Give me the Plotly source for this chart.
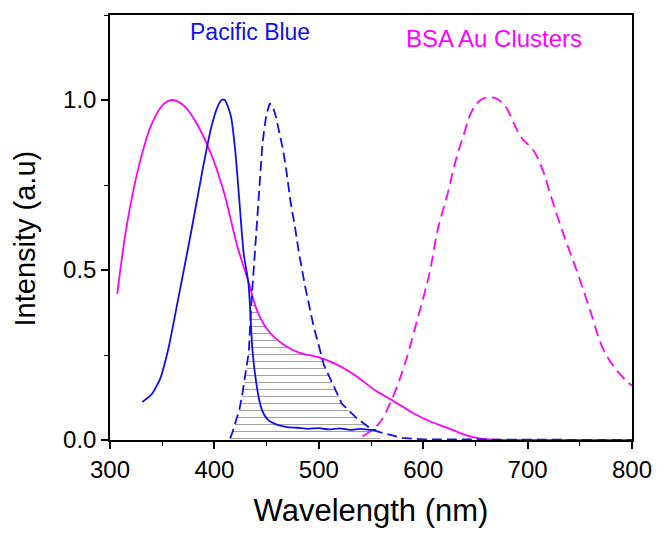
import plotly.graph_objects as go

# Pacific Blue excitation (solid blue)
pb_ex_x = [331, 340, 348, 356, 365, 377, 389, 397, 403, 407, 410, 413, 416, 420, 424, 428, 432.7, 436.5, 440,
           443, 446, 449, 453, 457, 463, 470, 480, 490, 500, 510, 520, 530, 540, 548, 555]
pb_ex_y = [0.112, 0.135, 0.18, 0.27, 0.41, 0.60, 0.80, 0.92, 0.98, 1.0, 1.0, 0.98, 0.95, 0.85, 0.70, 0.55, 0.458, 0.262, 0.17,
           0.117, 0.085, 0.068, 0.055, 0.049, 0.042, 0.038, 0.036, 0.033, 0.035, 0.031, 0.034, 0.03, 0.033, 0.03, 0.03]

# Pacific Blue emission (dashed blue)
pb_em_x = [415, 417, 420, 424, 427, 430, 433, 435, 438, 441, 444, 446, 448, 450, 453, 456, 459, 462, 466, 469,
           473, 477, 481, 487, 495, 505, 513, 522, 535, 545, 551, 560, 570, 580, 600, 650, 700, 750, 800]
pb_em_y = [0.005, 0.02, 0.05, 0.09, 0.14, 0.20, 0.26, 0.385, 0.52, 0.66, 0.78, 0.87, 0.92, 0.96, 0.99, 0.98, 0.95, 0.91, 0.85, 0.79,
           0.70, 0.63, 0.55, 0.45, 0.335, 0.22, 0.165, 0.107, 0.068, 0.045, 0.03, 0.022, 0.015, 0.006, 0.002, 0.001, 0.0, 0.0, 0.0]

# BSA Au clusters excitation (solid magenta)
bsa_ex_x = [307, 316, 328, 340, 352, 360, 372, 385, 397, 409, 422, 432.7, 441, 452, 468, 481, 500, 516, 535, 554,
            573, 591, 608, 624, 640, 655, 670, 700, 750, 800]
bsa_ex_y = [0.43, 0.63, 0.81, 0.93, 0.99, 1.0, 0.98, 0.92, 0.84, 0.73, 0.57, 0.465, 0.38, 0.32, 0.277, 0.257, 0.243, 0.224, 0.19, 0.146,
            0.112, 0.078, 0.053, 0.035, 0.015, 0.004, 0.001, 0.0, 0.0, 0.0]

# BSA Au clusters emission (dashed magenta)
bsa_em_x = [542, 558, 570, 582, 594, 606, 614, 623, 631, 639, 647, 655, 663, 671, 679, 687, 694, 706, 715, 722,
            735, 748, 760, 772, 784, 796, 800]
bsa_em_y = [0.01, 0.05, 0.12, 0.22, 0.35, 0.49, 0.62, 0.72, 0.82, 0.90, 0.97, 1.0, 1.008, 1.003, 0.98, 0.93, 0.89, 0.85, 0.79, 0.72,
            0.60, 0.49, 0.38, 0.27, 0.21, 0.17, 0.16]

# Spectral overlap (hatched)
ov_x = [415, 417, 420, 424, 427, 430, 433, 435, 436.5, 441, 452, 468, 481, 500, 504, 513, 522, 535, 545, 551, 560]
ov_y = [0.005, 0.02, 0.05, 0.09, 0.14, 0.20, 0.26, 0.385, 0.43, 0.38, 0.32, 0.277, 0.257, 0.243, 0.235, 0.165, 0.107, 0.068, 0.045, 0.03, 0.0]

BLUE = "#1010ee"
MAG = "#ff00ff"
FONT = "Liberation Sans, Arial"

fig = go.Figure()
fig.add_trace(go.Scatter(x=ov_x, y=ov_y, mode="lines", line=dict(width=0), fill="tozeroy",
                         fillcolor="rgba(0,0,0,0)",
                         fillpattern=dict(shape="-", fgcolor="#444444", bgcolor="rgba(255,255,255,0)",
                                          size=7, solidity=0.15),
                         hoverinfo="skip", showlegend=False))
fig.add_trace(go.Scatter(x=bsa_ex_x, y=bsa_ex_y, mode="lines", line=dict(color=MAG, width=1.8, shape="spline"),
                         showlegend=False))
fig.add_trace(go.Scatter(x=bsa_em_x, y=bsa_em_y, mode="lines",
                         line=dict(color=MAG, width=1.8, dash="11px,6px", shape="spline"), showlegend=False))
fig.add_trace(go.Scatter(x=pb_ex_x, y=pb_ex_y, mode="lines", line=dict(color=BLUE, width=1.8, shape="spline", smoothing=0.6),
                         showlegend=False))
fig.add_trace(go.Scatter(x=pb_em_x, y=pb_em_y, mode="lines",
                         line=dict(color=BLUE, width=1.8, dash="10px,5px"), showlegend=False))

fig.add_annotation(x=434, y=1.2, text="Pacific Blue", showarrow=False,
                   font=dict(family=FONT, size=23, color=BLUE))
fig.add_annotation(x=668, y=1.18, text="BSA Au Clusters", showarrow=False,
                   font=dict(family=FONT, size=24, color=MAG))
fig.add_annotation(xref="paper", yref="paper", x=(25 - 110) / 525, y=(440 - 238) / 425,
                   text="Intensity (a.u)", textangle=-90, showarrow=False,
                   xanchor="center", yanchor="middle",
                   font=dict(family=FONT, size=29, color="black"))

fig.update_layout(
    width=664, height=538,
    margin=dict(l=110, r=29, t=15, b=98),
    paper_bgcolor="white", plot_bgcolor="white",
    font=dict(family=FONT, color="black"),
)
fig.update_xaxes(range=[300, 800], dtick=100, tick0=300, showgrid=False, zeroline=False,
                 showline=True, linecolor="black", linewidth=1.5, mirror=True,
                 ticks="outside", ticklen=7, tickwidth=1.5, tickcolor="black",
                 minor=dict(dtick=50, ticks="outside", ticklen=4, tickwidth=1.2, tickcolor="black", showgrid=False),
                 tickfont=dict(size=24),
                 title=dict(text="Wavelength (nm)", font=dict(size=31), standoff=18))
fig.update_yaxes(range=[0, 1.25], dtick=0.5, tick0=0, tickformat=".1f", showgrid=False, zeroline=False,
                 showline=True, linecolor="black", linewidth=1.5, mirror=True,
                 ticks="outside", ticklen=7, tickwidth=1.5, tickcolor="black",
                 minor=dict(dtick=0.25, ticks="outside", ticklen=4, tickwidth=1.2, tickcolor="black", showgrid=False),
                 tickfont=dict(size=24))

fig.write_html("out.html", config={"displayModeBar": False},
               post_script="document.body.style.margin='0';document.body.style.overflow='hidden';")
